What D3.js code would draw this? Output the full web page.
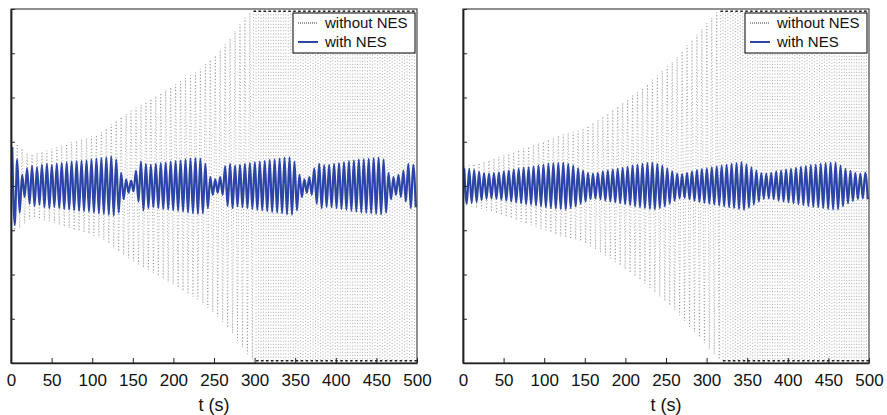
<!DOCTYPE html>
<html>
<head>
<meta charset="utf-8">
<script src="https://cdn.jsdelivr.net/npm/d3@7"></script>
<style>
  body { margin: 0; background: #fff; }
  svg { display: block; font-family: "Liberation Sans", Arial, Helvetica, sans-serif; }
</style>
</head>
<body>
<svg id="chart" width="887" height="415"></svg>
<script>
// one amplitude per oscillation cycle (82 cycles over 0..500 s)
var withoutNesLeft = [1.0, 0.95, 0.85, 0.75, 0.72, 0.75, 0.78, 0.8, 0.84, 0.88,
  0.92, 0.95, 1.0, 1.02, 1.05, 1.08, 1.12, 1.15, 1.22, 1.3,
  1.4, 1.48, 1.56, 1.63, 1.7, 1.77, 1.84, 1.9, 1.97, 2.03,
  2.1, 2.17, 2.23, 2.3, 2.37, 2.44, 2.5, 2.56, 2.65, 2.75,
  2.85, 2.95, 3.07, 3.2, 3.33, 3.5, 3.65, 3.8, 3.92, 3.95,
  3.95, 3.95, 3.95, 3.95, 3.95, 3.95, 3.95, 3.95, 3.95, 3.95,
  3.95, 3.95, 3.95, 3.95, 3.95, 3.95, 3.95, 3.95, 3.95, 3.95,
  3.95, 3.95, 3.95, 3.95, 3.95, 3.95, 3.95, 3.95, 3.95, 3.95,
  3.95, 3.95]
var withNesLeft = [0.88, 0.6, 0.25, 0.4, 0.45, 0.42, 0.48, 0.5, 0.47, 0.5,
  0.52, 0.53, 0.55, 0.56, 0.57, 0.58, 0.6, 0.62, 0.63, 0.65,
  0.67, 0.6, 0.3, 0.15, 0.12, 0.35, 0.55, 0.5, 0.48, 0.5,
  0.52, 0.53, 0.55, 0.56, 0.58, 0.6, 0.62, 0.63, 0.62, 0.5,
  0.2, 0.15, 0.2, 0.45, 0.5, 0.46, 0.48, 0.5, 0.52, 0.54,
  0.55, 0.57, 0.59, 0.6, 0.62, 0.64, 0.65, 0.55, 0.25, 0.15,
  0.2, 0.4, 0.5, 0.47, 0.48, 0.5, 0.52, 0.54, 0.56, 0.58,
  0.6, 0.61, 0.62, 0.63, 0.64, 0.6, 0.3, 0.2, 0.25, 0.35,
  0.5, 0.48]
var withoutNesRight = [0.45, 0.47, 0.5, 0.52, 0.55, 0.58, 0.62, 0.66, 0.7, 0.73,
  0.77, 0.81, 0.85, 0.89, 0.93, 0.97, 1.0, 1.05, 1.1, 1.14,
  1.17, 1.2, 1.22, 1.25, 1.3, 1.36, 1.43, 1.5, 1.57, 1.64,
  1.72, 1.8, 1.88, 1.96, 2.04, 2.12, 2.2, 2.3, 2.4, 2.5,
  2.6, 2.7, 2.8, 2.92, 3.05, 3.18, 3.3, 3.42, 3.55, 3.68,
  3.8, 3.92, 3.95, 3.95, 3.95, 3.95, 3.95, 3.95, 3.95, 3.95,
  3.95, 3.95, 3.95, 3.95, 3.95, 3.95, 3.95, 3.95, 3.95, 3.95,
  3.95, 3.95, 3.95, 3.95, 3.95, 3.95, 3.95, 3.95, 3.95, 3.95,
  3.95, 3.95]
var withNesRight = [0.4, 0.38, 0.36, 0.32, 0.29, 0.28, 0.29, 0.31, 0.33, 0.35,
  0.37, 0.39, 0.41, 0.42, 0.44, 0.46, 0.48, 0.5, 0.51, 0.52,
  0.53, 0.5, 0.46, 0.4, 0.35, 0.3, 0.28, 0.3, 0.33, 0.35,
  0.37, 0.39, 0.41, 0.43, 0.46, 0.48, 0.5, 0.52, 0.53, 0.5,
  0.46, 0.4, 0.33, 0.28, 0.27, 0.3, 0.33, 0.36, 0.38, 0.4,
  0.42, 0.44, 0.46, 0.48, 0.5, 0.52, 0.54, 0.49, 0.42, 0.35,
  0.29, 0.28, 0.3, 0.33, 0.35, 0.37, 0.39, 0.41, 0.43, 0.45,
  0.47, 0.48, 0.5, 0.52, 0.53, 0.53, 0.46, 0.39, 0.34, 0.3,
  0.28, 0.3]

var satLevel = 3.95       // level where the response without NES saturates
var xTicks = [0, 50, 100, 150, 200, 250, 300, 350, 400, 450, 500]
var yTicks = [-4, -3, -2, -1, 0, 1, 2, 3, 4]
var legendLabels = ["without NES", "with NES"]
var xLabel = "t (s)"

var blue = "#2c45a6"
var svg = d3.select("#chart")

// turn per-cycle amplitudes into extremum points; saturated cycles get a flat top
var cycle_points = function(amps, sat) {
  var P = 500 / amps.length
  var pts = []
  var flats = []
  amps.forEach(function(a, i) {
    [[0.25, 1], [0.75, -1]].forEach(function(q) {
      var tc = i * P + q[0] * P
      if (sat && a >= sat) {
        var seg = [[tc - P / 4, q[1] * a], [tc + P / 4, q[1] * a]]
        pts.push(seg[0], seg[1])
        flats.push(seg)
      } else {
        pts.push([tc, q[1] * a])
      }
    })
  })
  return {pts: pts, flats: flats}
}

var draw_panel = function(left, without, withNes) {
  var top = 9, bottom = 363, right = left + 406

  var x = d3.scaleLinear().domain([0, 500]).range([left, right])
  var y = d3.scaleLinear().domain([-4, 4]).range([bottom, top])

  var g = svg.append("g")

  g.append("clipPath").attr("id", "clip" + left)
    .append("rect").attr("x", left).attr("y", top)
    .attr("width", right - left).attr("height", bottom - top)

  var plot = g.append("g").attr("clip-path", "url(#clip" + left + ")")
  var line = d3.line().x(function(d) { return x(d[0]) }).y(function(d) { return y(d[1]) })

  var wo = cycle_points(without, satLevel)
  plot.append("path")
    .datum(wo.pts)
    .attr("fill", "none")
    .attr("stroke", "#444")
    .attr("stroke-width", 0.45)
    .attr("stroke-dasharray", "1,2.2")
    .attr("d", line)

  // the flat saturated parts read as short dark dashes along the border
  plot.selectAll(".flat")
    .data(wo.flats)
    .enter().append("path")
    .attr("class", "flat")
    .attr("fill", "none")
    .attr("stroke", "#111")
    .attr("stroke-width", 1.4)
    .attr("d", line)

  plot.append("path")
    .datum(cycle_points(withNes, null).pts)
    .attr("fill", "none")
    .attr("stroke", blue)
    .attr("stroke-width", 2.2)
    .attr("d", d3.line().curve(d3.curveMonotoneX)
      .x(function(d) { return x(d[0]) }).y(function(d) { return y(d[1]) }))

  // frame
  g.append("rect")
    .attr("x", left).attr("y", top)
    .attr("width", right - left).attr("height", bottom - top)
    .attr("fill", "none").attr("stroke", "#222").attr("stroke-width", 1)

  // bottom axis, ticks pointing inward
  var xAxis = g.append("g").attr("transform", "translate(0," + bottom + ")")
    .call(d3.axisBottom(x).tickValues(xTicks).tickSizeInner(-5).tickSizeOuter(0).tickPadding(11))
  xAxis.select(".domain").attr("stroke", "#222").attr("stroke-width", 1.6)
  xAxis.selectAll(".tick line").attr("stroke", "#222")
  xAxis.selectAll("text").attr("font-size", "17px").attr("fill", "#111")
    .attr("font-family", "'Liberation Sans', Arial, sans-serif")

  // left axis, no labels
  var yAxis = g.append("g").attr("transform", "translate(" + left + ",0)")
    .call(d3.axisLeft(y).tickValues(yTicks).tickSizeInner(-4).tickSizeOuter(0).tickFormat(""))
  yAxis.select(".domain").attr("stroke", "#222").attr("stroke-width", 1.8)
  yAxis.selectAll(".tick line").attr("stroke", "#222")

  g.append("text")
    .attr("x", (left + right) / 2)
    .attr("y", 411)
    .attr("text-anchor", "middle")
    .attr("font-size", "18px")
    .attr("fill", "#111")
    .text(xLabel)

  // legend
  var lx = right - 124, ly = 13
  var leg = g.append("g")
  leg.append("rect")
    .attr("x", lx).attr("y", ly).attr("width", 122).attr("height", 40)
    .attr("fill", "#fff").attr("stroke", "#000").attr("stroke-width", 1)
  legendLabels.forEach(function(lab, i) {
    var yy = ly + 10 + i * 19
    leg.append("line")
      .attr("x1", lx + 5).attr("x2", lx + 25).attr("y1", yy).attr("y2", yy)
      .attr("stroke", i == 0 ? "#000" : blue)
      .attr("stroke-width", i == 0 ? 0.8 : 2)
      .attr("stroke-dasharray", i == 0 ? "1,1" : null)
    leg.append("text")
      .attr("x", lx + 32).attr("y", yy + 5)
      .attr("font-size", "15px").attr("fill", "#111")
      .text(lab)
  })
}

draw_panel(11, withoutNesLeft, withNesLeft)
draw_panel(463, withoutNesRight, withNesRight)
</script>
</body>
</html>
